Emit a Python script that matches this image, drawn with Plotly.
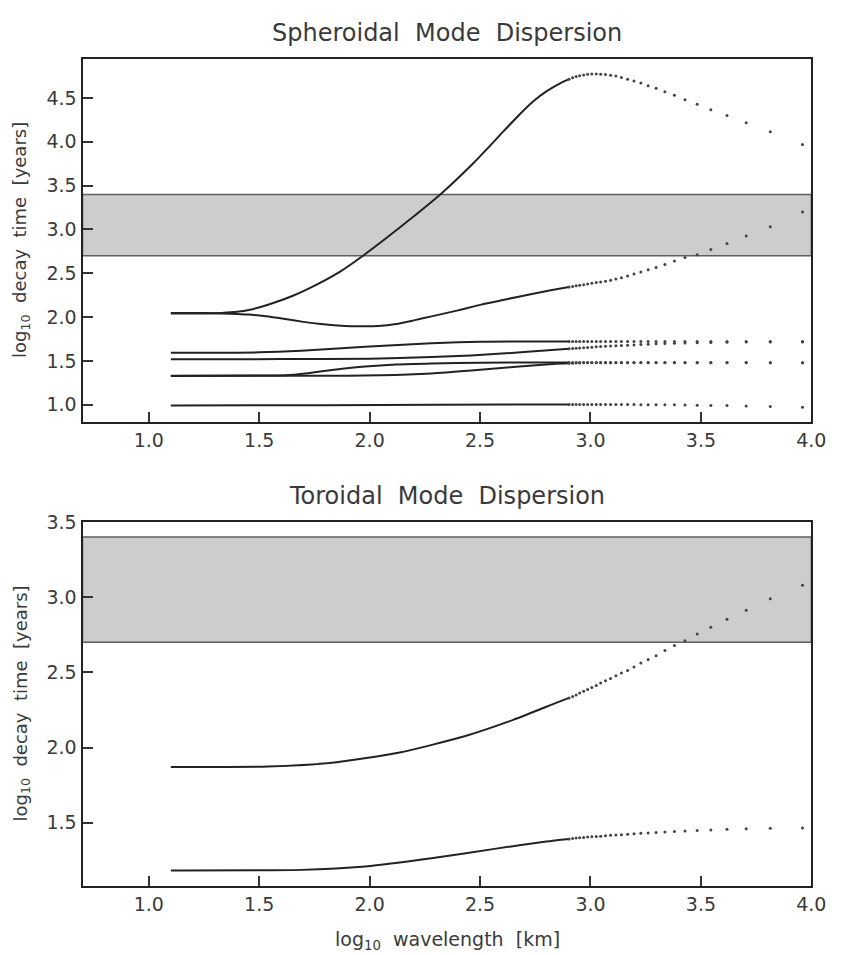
import plotly.graph_objects as go

# ---------------- data ----------------
# log10 wavelength of the discrete (long-wavelength) samples, degree 2 .. 28
DOT_X = [3.960, 3.814, 3.705, 3.618, 3.545, 3.483, 3.428, 3.380, 3.337, 3.297,
         3.261, 3.228, 3.197, 3.168, 3.140, 3.115, 3.091, 3.068, 3.046, 3.026,
         3.006, 2.987, 2.969, 2.951, 2.935, 2.919, 2.903]

# Spheroidal modes: continuous part (x, y) and discrete part (y at DOT_X)
S1_LX = [1.10, 1.25, 1.33, 1.40, 1.47, 1.54, 1.65, 1.76, 1.87, 1.97, 2.08, 2.18,
         2.32, 2.475, 2.61, 2.68, 2.74, 2.80, 2.86, 2.903]
S1_LY = [2.04, 2.042, 2.047, 2.06, 2.09, 2.14, 2.24, 2.37, 2.525, 2.70, 2.91, 3.11,
         3.40, 3.77, 4.13, 4.315, 4.46, 4.575, 4.665, 4.715]
S1_DY = [3.97, 4.115, 4.217, 4.30, 4.367, 4.43, 4.48, 4.53, 4.57, 4.61,
         4.64, 4.67, 4.695, 4.715, 4.735, 4.75, 4.76, 4.767, 4.772, 4.775,
         4.774, 4.77, 4.763, 4.755, 4.745, 4.73, 4.715]

S2_LX = [1.10, 1.25, 1.33, 1.40, 1.45, 1.53, 1.61, 1.70, 1.78, 1.87, 1.96, 2.04,
         2.12, 2.20, 2.28, 2.40, 2.505, 2.62, 2.73, 2.82, 2.903]
S2_LY = [2.045, 2.045, 2.042, 2.035, 2.028, 2.008, 1.98, 1.945, 1.92, 1.902, 1.895, 1.898,
         1.92, 1.962, 2.008, 2.076, 2.142, 2.204, 2.26, 2.305, 2.343]
S2_DY = [3.20, 3.03, 2.925, 2.84, 2.77, 2.71, 2.68, 2.64, 2.60, 2.565,
         2.54, 2.515, 2.49, 2.47, 2.45, 2.435, 2.42, 2.41, 2.40, 2.393,
         2.386, 2.378, 2.37, 2.363, 2.356, 2.35, 2.343]

S3_LX = [1.10, 1.50, 1.69, 1.98, 2.28, 2.50, 2.903]
S3_LY = [1.594, 1.597, 1.615, 1.66, 1.70, 1.718, 1.722]
S3_DY = [1.72, 1.721, 1.722, 1.722, 1.722, 1.722, 1.722, 1.722, 1.722, 1.722,
         1.722, 1.722, 1.722, 1.722, 1.722, 1.722, 1.722, 1.722, 1.722, 1.722,
         1.722, 1.722, 1.722, 1.722, 1.722, 1.722, 1.722]

S4_LX = [1.10, 1.60, 2.00, 2.28, 2.46, 2.70, 2.903]
S4_LY = [1.519, 1.52, 1.525, 1.545, 1.562, 1.60, 1.638]
S4_DY = [1.716, 1.715, 1.714, 1.712, 1.71, 1.708, 1.705, 1.702, 1.698, 1.694,
         1.69, 1.686, 1.682, 1.678, 1.675, 1.672, 1.669, 1.666, 1.663, 1.66,
         1.656, 1.653, 1.65, 1.647, 1.644, 1.641, 1.638]

S5_LX = [1.10, 1.50, 1.62, 1.72, 1.83, 1.98, 2.12, 2.28, 2.50, 2.903]
S5_LY = [1.331, 1.332, 1.336, 1.36, 1.395, 1.435, 1.458, 1.47, 1.48, 1.482]
S5_DY = [1.48, 1.48, 1.481, 1.481, 1.482, 1.482, 1.482, 1.482, 1.482, 1.482,
         1.482, 1.482, 1.482, 1.482, 1.482, 1.482, 1.482, 1.482, 1.482, 1.482,
         1.482, 1.482, 1.482, 1.482, 1.482, 1.482, 1.482]

S6_LX = [1.10, 1.90, 2.05, 2.28, 2.46, 2.65, 2.83, 2.903]
S6_LY = [1.328, 1.33, 1.335, 1.357, 1.39, 1.43, 1.465, 1.472]
S6_DY = [1.48, 1.48, 1.48, 1.48, 1.48, 1.48, 1.48, 1.48, 1.48, 1.48,
         1.48, 1.48, 1.48, 1.48, 1.479, 1.479, 1.479, 1.479, 1.479, 1.479,
         1.478, 1.478, 1.478, 1.477, 1.476, 1.474, 1.472]

S7_LX = [1.10, 1.80, 2.30, 2.903]
S7_LY = [0.992, 0.995, 1.0, 1.003]
S7_DY = [0.972, 0.98, 0.986, 0.99, 0.992, 0.994, 0.996, 0.998, 1.0, 1.0,
         1.0, 1.0, 1.001, 1.001, 1.001, 1.002, 1.002, 1.002, 1.002, 1.003,
         1.003, 1.003, 1.003, 1.003, 1.003, 1.003, 1.003]

# Toroidal modes
T1_LX = [1.10, 1.54, 1.84, 2.13, 2.43, 2.65, 2.85, 2.903]
T1_LY = [1.871, 1.873, 1.90, 1.965, 2.075, 2.184, 2.30, 2.33]
T1_DY = [3.079, 2.99, 2.914, 2.853, 2.80, 2.755, 2.71, 2.678, 2.645, 2.61,
         2.586, 2.562, 2.535, 2.513, 2.496, 2.478, 2.46, 2.445, 2.43, 2.413,
         2.40, 2.386, 2.374, 2.362, 2.35, 2.34, 2.33]

T2_LX = [1.10, 1.69, 1.98, 2.28, 2.58, 2.80, 2.903]
T2_LY = [1.182, 1.186, 1.209, 1.263, 1.329, 1.375, 1.392]
T2_DY = [1.465, 1.463, 1.46, 1.456, 1.452, 1.448, 1.445, 1.442, 1.438, 1.435,
         1.432, 1.429, 1.426, 1.423, 1.42, 1.418, 1.416, 1.413, 1.41, 1.408,
         1.406, 1.404, 1.402, 1.40, 1.398, 1.395, 1.392]

BAND = [2.7, 3.4]
X_TICKS = [1.0, 1.5, 2.0, 2.5, 3.0, 3.5, 4.0]
Y_TICKS_TOP = [1.0, 1.5, 2.0, 2.5, 3.0, 3.5, 4.0, 4.5]
Y_TICKS_BOT = [1.5, 2.0, 2.5, 3.0, 3.5]

# ---------------- figure ----------------
W, H = 846, 955
LINE_C = "#222222"
DOT_C = "#444444"
TXT_C = "#3a3a3a"
FONT = "DejaVu Sans"

fig = go.Figure()

top_curves = [(S1_LX, S1_LY, S1_DY), (S2_LX, S2_LY, S2_DY), (S3_LX, S3_LY, S3_DY),
              (S4_LX, S4_LY, S4_DY), (S5_LX, S5_LY, S5_DY), (S6_LX, S6_LY, S6_DY),
              (S7_LX, S7_LY, S7_DY)]
bot_curves = [(T1_LX, T1_LY, T1_DY), (T2_LX, T2_LY, T2_DY)]

for curves, xa, ya in [(top_curves, "x", "y"), (bot_curves, "x2", "y2")]:
    for lx, ly, dy in curves:
        fig.add_trace(go.Scatter(x=lx, y=ly, mode="lines", xaxis=xa, yaxis=ya,
                                 line=dict(color=LINE_C, width=2, shape="spline", smoothing=0.6),
                                 showlegend=False, hoverinfo="skip"))
        fig.add_trace(go.Scatter(x=DOT_X, y=dy, mode="markers", xaxis=xa, yaxis=ya,
                                 marker=dict(color=DOT_C, size=3, line=dict(width=0)),
                                 showlegend=False, hoverinfo="skip"))

for xr, yr in [("x domain", "y"), ("x2 domain", "y2")]:
    fig.add_shape(type="rect", xref=xr, yref=yr, x0=0, x1=1, y0=BAND[0], y1=BAND[1],
                  fillcolor="#cdcdcd", line=dict(color="#5f5f5f", width=1.5), layer="below")

x_dom = [84 / W, 826 / W]
top_dom = [1 - 416 / H, 1 - 49 / H]
bot_dom = [1 - 885 / H, 1 - 517 / H]

axis_common = dict(showline=True, linecolor="#222222", linewidth=2, mirror=True,
                   ticks="inside", ticklen=10, tickwidth=1.5, tickcolor="#333333",
                   showgrid=False, zeroline=False,
                   tickfont=dict(family=FONT, size=19, color=TXT_C), tickformat=".1f")

fig.update_layout(
    width=W, height=H, margin=dict(l=0, r=0, t=0, b=0),
    paper_bgcolor="white", plot_bgcolor="white",
    xaxis=dict(domain=x_dom, range=[0.7, 4.0], tickvals=X_TICKS, anchor="y", **axis_common),
    yaxis=dict(domain=top_dom, range=[0.8, 4.94], tickvals=Y_TICKS_TOP, anchor="x", **axis_common),
    xaxis2=dict(domain=x_dom, range=[0.7, 4.0], tickvals=X_TICKS, anchor="y2", **axis_common),
    yaxis2=dict(domain=bot_dom, range=[1.08, 3.5], tickvals=Y_TICKS_BOT, anchor="x2", **axis_common),
)

ann_font = dict(family=FONT, color=TXT_C)
common_ann = dict(xref="paper", yref="paper", showarrow=False, xanchor="center", yanchor="middle")
fig.add_annotation(text="Spheroidal  Mode  Dispersion", x=455 / W, y=1 - 22 / H,
                   font=dict(size=24, **ann_font), **common_ann)
fig.add_annotation(text="Toroidal  Mode  Dispersion", x=455 / W, y=1 - 491 / H,
                   font=dict(size=24, **ann_font), **common_ann)
fig.add_annotation(text="log<sub>10</sub>  decay  time  [years]", x=22 / W, y=1 - 232 / H,
                   textangle=-90, font=dict(size=18, **ann_font), **common_ann)
fig.add_annotation(text="log<sub>10</sub>  decay  time  [years]", x=22 / W, y=1 - 701 / H,
                   textangle=-90, font=dict(size=18, **ann_font), **common_ann)
fig.add_annotation(text="log<sub>10</sub>  wavelength  [km]", x=456 / W, y=1 - 940 / H,
                   font=dict(size=19, **ann_font), **common_ann)

fig.write_html("out.html", config={"displayModeBar": False},
               post_script="document.body.style.margin='0';document.body.style.overflow='hidden';")
